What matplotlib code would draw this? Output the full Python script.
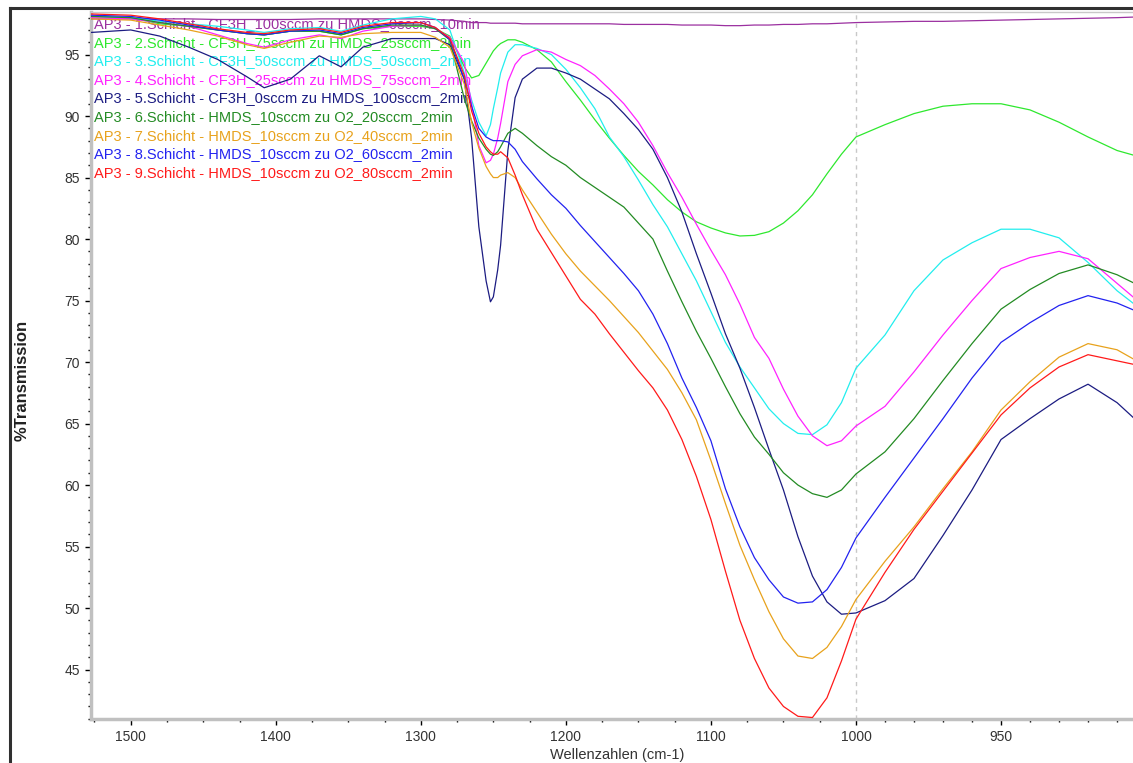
import numpy as np
import matplotlib.pyplot as plt
from matplotlib.ticker import FixedLocator

# wavenumbers (cm-1) shared by all spectra
wavenumber = [1527, 1500, 1480, 1460, 1440, 1420, 1408, 1390, 1370, 1355,
              1340, 1320, 1300, 1290, 1280, 1270, 1265, 1260, 1255, 1252,
              1250, 1247, 1245, 1240, 1235, 1230, 1220, 1210, 1200, 1190,
              1180, 1170, 1160, 1150, 1140, 1130, 1120, 1110, 1100, 1090,
              1080, 1070, 1060, 1050, 1040, 1030, 1020, 1010, 1000, 990,
              980, 970, 960, 950, 940, 930, 920, 910, 904]

schicht_1 = [97.9, 97.9, 97.9, 97.9, 97.85, 97.85, 97.85, 97.85, 97.9, 97.9,
             97.9, 97.9, 97.9, 97.85, 97.8, 97.7, 97.6, 97.6, 97.6, 97.55,
             97.55, 97.55, 97.55, 97.55, 97.55, 97.5, 97.5, 97.5, 97.5, 97.5,
             97.5, 97.5, 97.45, 97.45, 97.45, 97.45, 97.4, 97.4, 97.4, 97.35,
             97.35, 97.4, 97.4, 97.45, 97.45, 97.5, 97.5, 97.55, 97.6, 97.65,
             97.7, 97.7, 97.75, 97.8, 97.85, 97.9, 97.95, 98.0, 98.05]
schicht_2 = [98.1, 98.0, 97.5, 97.3, 97.0, 96.7, 96.6, 96.9, 96.9, 96.6,
             97.1, 97.3, 97.3, 97.1, 96.5, 94.0, 93.1, 93.3, 94.3, 94.9,
             95.3, 95.7, 95.9, 96.2, 96.2, 96.0, 95.4, 94.4, 92.8, 91.3,
             89.7, 88.2, 86.8, 85.5, 84.4, 83.2, 82.2, 81.4, 80.9, 80.5,
             80.25, 80.3, 80.6, 81.3, 82.3, 83.6, 85.3, 86.9, 88.3, 89.3,
             90.2, 90.8, 91.0, 91.0, 90.5, 89.5, 88.3, 87.2, 86.8]
schicht_3 = [98.1, 98.0, 97.7, 97.5, 97.3, 97.0, 96.8, 97.1, 97.2, 96.9,
             97.4, 97.9, 98.1, 97.9, 97.0, 93.5, 91.3, 89.5, 88.4, 89.3,
             90.6, 92.3, 93.5, 95.2, 95.8, 95.8, 95.5, 95.0, 93.8, 92.3,
             90.6, 88.3, 86.7, 84.8, 82.8, 81.0, 78.8, 76.6, 74.1, 71.6,
             69.6, 67.9, 66.2, 65.0, 64.2, 64.1, 64.9, 66.7, 69.5, 72.2,
             75.8, 78.3, 79.7, 80.8, 80.8, 80.1, 78.1, 75.8, 74.7]
schicht_4 = [98.0, 97.9, 97.6, 97.3, 96.6, 95.9, 95.6, 96.2, 96.6, 96.3,
             96.9, 97.3, 97.4, 97.1, 96.4, 94.3, 91.0, 87.6, 86.2, 86.4,
             86.9, 88.2, 89.4, 92.8, 94.2, 94.9, 95.4, 95.2, 94.6, 94.1,
             93.3, 92.2, 91.0, 89.5, 87.6, 85.4, 83.4, 81.2, 79.1, 77.1,
             74.7, 72.0, 70.3, 67.8, 65.6, 64.0, 63.2, 63.6, 64.8, 66.4,
             69.2, 72.2, 75.0, 77.6, 78.5, 79.0, 78.4, 76.4, 75.2]
schicht_5 = [96.8, 97.0, 96.5, 95.6, 94.6, 93.2, 92.3, 93.0, 94.9, 94.0,
             95.6, 96.3, 96.3, 96.3, 95.8, 93.0, 88.2, 81.0, 76.6, 74.9,
             75.3, 77.5, 79.5, 87.2, 91.5, 93.0, 93.9, 93.9, 93.5, 93.0,
             92.2, 91.4, 90.2, 88.9, 87.3, 85.0, 82.2, 78.8, 75.6, 72.3,
             69.5, 66.3, 62.9, 59.6, 55.8, 52.6, 50.5, 49.5, 49.6, 50.6,
             52.4, 55.9, 59.6, 63.7, 65.4, 67.0, 68.2, 66.7, 65.4]
schicht_6 = [98.1, 98.0, 97.6, 97.3, 97.0, 96.7, 96.6, 96.9, 96.9, 96.6,
             97.1, 97.4, 97.4, 97.1, 96.2, 91.4, 89.6, 88.2, 87.3, 86.9,
             86.8, 87.1, 87.5, 88.6, 89.0, 88.6, 87.6, 86.7, 86.0, 85.0,
             84.2, 83.4, 82.6, 81.3, 80.0, 77.4, 74.9, 72.5, 70.3, 68.0,
             65.8, 63.9, 62.5, 61.0, 60.0, 59.3, 59.0, 59.6, 60.9, 62.7,
             65.4, 68.5, 71.5, 74.3, 75.9, 77.2, 77.9, 77.1, 76.4]
schicht_7 = [97.9, 97.8, 97.4, 97.0, 96.5, 95.8, 95.5, 96.0, 96.5, 96.4,
             96.7, 96.8, 96.8, 96.4, 95.6, 92.6, 89.5, 87.4, 85.9, 85.3,
             85.0, 85.0, 85.2, 85.4, 85.0, 84.0, 82.2, 80.4, 78.8, 77.4,
             76.2, 75.0, 73.7, 72.4, 70.9, 69.4, 67.5, 65.3, 62.0, 58.5,
             55.1, 52.3, 49.7, 47.5, 46.1, 45.9, 46.8, 48.5, 50.7, 53.8,
             56.6, 59.7, 62.7, 66.1, 68.4, 70.4, 71.5, 71.0, 70.2]
schicht_8 = [98.2, 98.1, 97.8, 97.4, 97.0, 96.7, 96.6, 96.9, 97.0, 96.7,
             97.2, 97.5, 97.6, 97.2, 96.2, 93.0, 90.8, 89.0, 88.3, 88.1,
             88.0, 88.0, 88.0, 87.9, 87.3, 86.3, 84.9, 83.6, 82.5, 81.1,
             79.8, 78.5, 77.2, 75.8, 73.9, 71.5, 68.7, 66.3, 63.6, 59.7,
             56.6, 54.1, 52.3, 50.9, 50.4, 50.5, 51.5, 53.3, 55.7, 59.0,
             62.2, 65.4, 68.7, 71.6, 73.2, 74.6, 75.4, 74.8, 74.2]
schicht_9 = [98.3, 98.2, 97.9, 97.5, 97.1, 96.8, 96.7, 97.0, 97.1, 96.8,
             97.3, 97.6, 97.6, 97.2, 96.3, 93.3, 90.4, 88.6, 87.5, 87.1,
             86.9, 86.9, 87.1, 86.6, 85.2, 83.6, 80.8, 78.9, 77.0, 75.1,
             73.9, 72.3, 70.8, 69.3, 67.9, 66.1, 63.7, 60.7, 57.2, 53.0,
             49.0, 45.9, 43.5, 42.0, 41.2, 41.1, 42.7, 45.7, 49.1, 52.9,
             56.4, 59.5, 62.6, 65.7, 67.9, 69.6, 70.6, 70.1, 69.8]

series = [schicht_1, schicht_2, schicht_3, schicht_4, schicht_5,
          schicht_6, schicht_7, schicht_8, schicht_9]

labels = [
    "AP3 - 1.Schicht - CF3H_100sccm zu HMDS_0sccm_10min",
    "AP3 - 2.Schicht - CF3H_75sccm zu HMDS_25sccm_2min",
    "AP3 - 3.Schicht - CF3H_50sccm zu HMDS_50sccm_2min",
    "AP3 - 4.Schicht - CF3H_25sccm zu HMDS_75sccm_2min",
    "AP3 - 5.Schicht - CF3H_0sccm zu HMDS_100sccm_2min",
    "AP3 - 6.Schicht - HMDS_10sccm zu O2_20sccm_2min",
    "AP3 - 7.Schicht - HMDS_10sccm zu O2_40sccm_2min",
    "AP3 - 8.Schicht - HMDS_10sccm zu O2_60sccm_2min",
    "AP3 - 9.Schicht - HMDS_10sccm zu O2_80sccm_2min",
]
colors = ["#9b30a0", "#2ee82e", "#22eeee", "#ff22ff", "#1c1c82",
          "#238b23", "#e8a21c", "#2222f0", "#ff1a1a"]

major_x = [1500, 1400, 1300, 1200, 1100, 1000, 950]


# spectrometer axis: below 1000 cm-1 the scale is stretched by 2
def fwd(w):
    w = np.asarray(w, dtype=float)
    return np.where(w >= 1000, w, 2 * w - 1000)


def inv(u):
    u = np.asarray(u, dtype=float)
    return np.where(u >= 1000, u, (u + 1000) / 2)


plt.rcParams['font.family'] = ['Liberation Sans', 'DejaVu Sans']

W, H = 1133, 763
fig = plt.figure(figsize=(W / 100, H / 100), dpi=100)
ax = fig.add_axes([91 / W, 44 / H, 1 - 91 / W, 707 / H])

ax.set_xscale('function', functions=(fwd, inv))
ax.set_xlim(1527.4, 904.5)
ax.set_ylim(40.98, 98.46)

for ys, c in zip(series, colors):
    ax.plot(wavenumber, ys, color=c, lw=0.9, zorder=3)

ax.axvline(1000, color="#c8c8c8", lw=1, ls=(0, (3, 3)), zorder=1)

# legend as coloured text
for i, (lab, c) in enumerate(zip(labels, colors)):
    ypx = 24 + 18.6 * i
    ax.text(3 / 1042, (719 - ypx) / 707, lab, color=c, fontsize=10.5,
            transform=ax.transAxes, ha="left", va="center", zorder=2)

# ticks
ax.xaxis.set_major_locator(FixedLocator(major_x))
minor_x = list(range(1525, 1000, -25)) + list(range(990, 900, -10))
ax.xaxis.set_minor_locator(FixedLocator(minor_x))
ax.set_xticklabels([str(v) for v in major_x])
ax.yaxis.set_major_locator(FixedLocator(list(range(45, 100, 5))))
ax.yaxis.set_minor_locator(FixedLocator(list(range(41, 99))))

ax.tick_params(which="major", length=4, width=1, color="black",
               labelsize=10, labelcolor="#333333", pad=4)
ax.tick_params(which="minor", length=2.5, width=1, color="black")

for side in ["left", "bottom"]:
    ax.spines[side].set_color("#c0c0c0")
    ax.spines[side].set_linewidth(2.5)
ax.spines["top"].set_color("#c8c8c8")
ax.spines["top"].set_linewidth(1)
ax.spines["right"].set_visible(False)

fig.text(22 / W, 1 - 380 / H, "%Transmission", rotation=90, ha="center",
         va="center", fontsize=12, fontweight="bold", color="#222222")
fig.text(617 / W, 1 - 755 / H, "Wellenzahlen (cm-1)", ha="center",
         va="center", fontsize=10.5, color="#333333")

# window frame
fig.add_artist(plt.Line2D([10 / W, 10 / W], [0, 1 - 8 / H],
                          transform=fig.transFigure, color="#303030", lw=2.2))
fig.add_artist(plt.Line2D([10 / W, 1], [1 - 8 / H, 1 - 8 / H],
                          transform=fig.transFigure, color="#303030", lw=2.2))

fig.savefig("out.png", dpi=100)
